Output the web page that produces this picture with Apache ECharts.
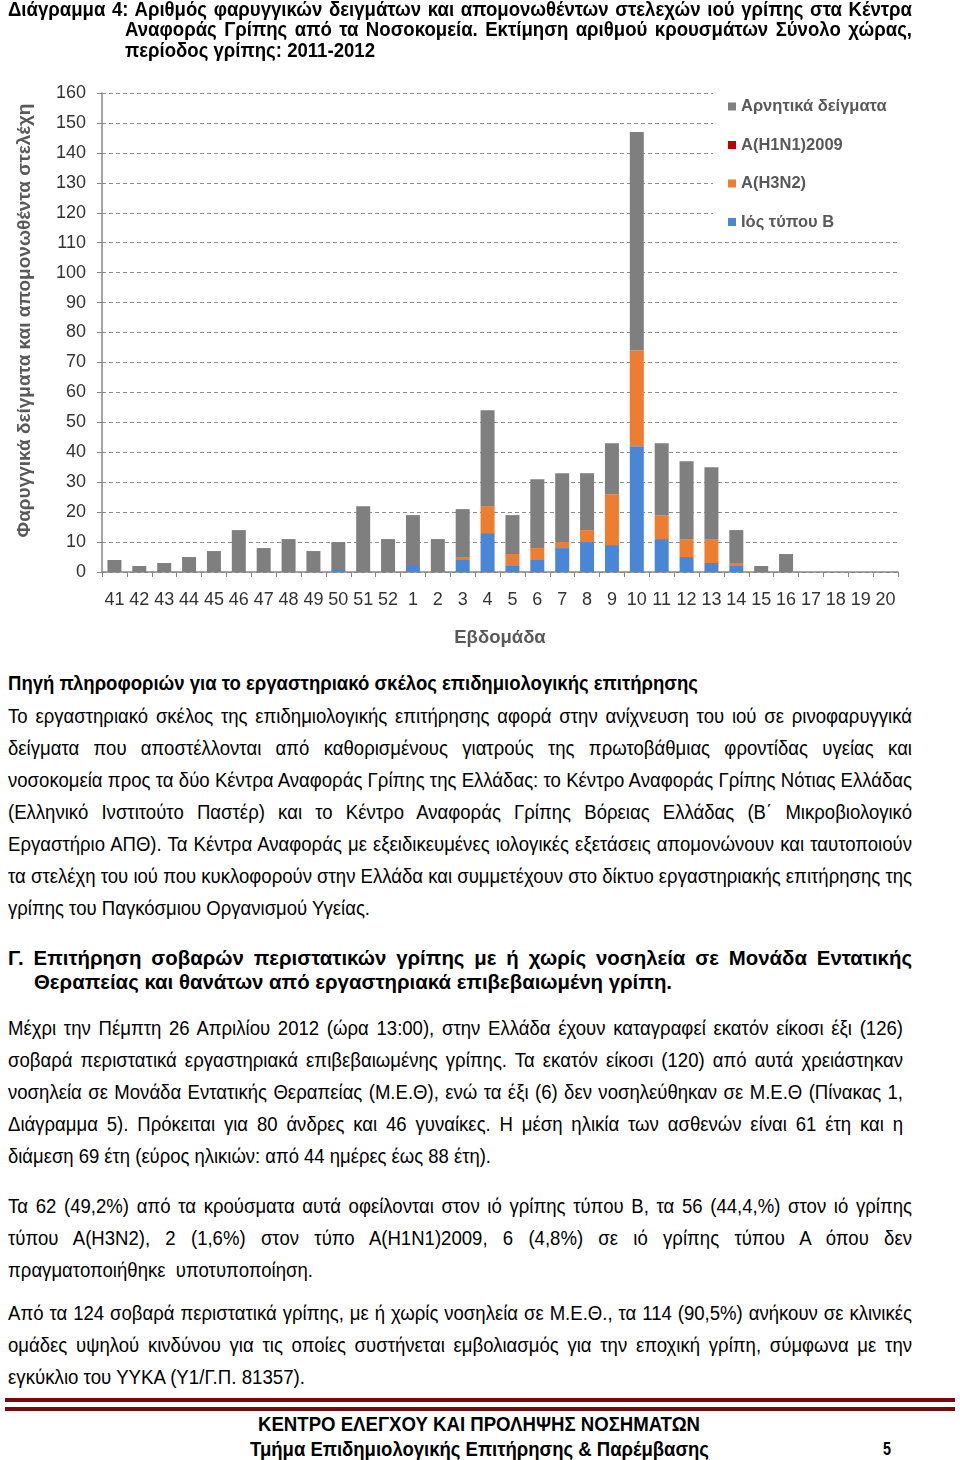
<!DOCTYPE html>
<html>
<head>
<meta charset="utf-8">
<script src="https://cdn.jsdelivr.net/npm/echarts@6/dist/echarts.min.js"></script>
<style>
  html, body { margin:0; padding:0; background:#fff; }
  #page { position:relative; width:960px; height:1460px; overflow:hidden; background:#fff; }
  #chart { position:absolute; left:0; top:0; width:960px; height:660px; }
  .ln { position:absolute; white-space:nowrap; color:#000; line-height:24px; height:24px;
        font-family:"Liberation Sans", Arial, sans-serif; font-size:20px; transform-origin:0 50%; }
  .b { font-weight:bold; }
  .rule { position:absolute; left:5px; width:950px; height:4px; background:#7a0a0a; }
</style>
</head>
<body>
<div id="page">
  <div id="chart"></div>
  <div id="text"></div>
  <div class="rule" style="top:1398px"></div>
  <div class="rule" style="top:1407px"></div>
</div>
<script>
// ---- chart data ----
const weeks = ['41','42','43','44','45','46','47','48','49','50','51','52','1','2','3','4','5','6','7','8','9','10','11','12','13','14','15','16','17','18','19','20'];
const typeB    = [0,0,0,0,0,0,0,0,0,1,0,0, 2,0,4,13,2,4,8,10,9,42,11,5,3,2,0,0,0,0,0,0];
const h1n1     = [0,0,0,0,0,0,0,0,0,0,0,0, 0,0,0,0,0,0,0,0,0,0,0,0,0,0,0,0,0,0,0,0];
const h3n2     = [0,0,0,0,0,0,0,0,0,0,0,0, 0,0,1,9,4,4,2,4,17,32,8,6,8,1,0,0,0,0,0,0];
const negative = [4,2,3,5,7,14,8,11,7,9,22,11, 17,11,16,32,13,23,23,19,17,73,24,26,24,11,2,6,0,0,0,0];
const yTicks = {min:0, max:160, interval:10};
const seriesNames = ['Ιός τύπου B','A(H1N1)2009','A(H3N2)','Αρνητικά δείγματα'];
const legendOrder = ['Αρνητικά δείγματα','A(H1N1)2009','A(H3N2)','Ιός τύπου B'];
const colors = ['#4a86d6','#c00000','#ed7d31','#7f7f7f'];

const chart = echarts.init(document.getElementById('chart'), null, {renderer:'canvas'});
const F = '"Liberation Sans", Arial, sans-serif';
const dataSets = [typeB, h1n1, h3n2, negative];
chart.setOption({
  animation:false,
  textStyle:{fontFamily:F},
  grid:{left:102, top:93, width:796, height:479, containLabel:false, outerBoundsMode:'none'},
  legend:{
    data:legendOrder, orient:'vertical', left:713, top:90,
    padding:[8,14,8,15], backgroundColor:'#fff',
    itemWidth:8, itemHeight:8, itemGap:21.5, icon:'rect',
    textStyle:{fontSize:16.5, fontWeight:'bold', color:'#595959', lineHeight:16, fontFamily:F}
  },
  xAxis:{
    type:'category', data:weeks,
    name:'Εβδομάδα', nameLocation:'middle', nameGap:56,
    nameTextStyle:{fontSize:18.5, fontWeight:'bold', color:'#595959', fontFamily:F},
    axisLine:{lineStyle:{color:'#868686', width:1.5}},
    axisTick:{show:true, alignWithLabel:false, length:5, lineStyle:{color:'#868686'}},
    axisLabel:{interval:0, fontSize:18, color:'#333', margin:19, fontFamily:F}
  },
  yAxis:{
    type:'value', min:yTicks.min, max:yTicks.max, interval:yTicks.interval,
    name:'Φαρυγγικά δείγματα και απομονωθέντα στελέχη', nameLocation:'middle', nameGap:68,
    nameTextStyle:{fontSize:19, fontWeight:'bold', color:'#595959', fontFamily:F, padding:[0,0,0,24]},
    axisLine:{show:true, lineStyle:{color:'#868686', width:1.5}},
    axisTick:{show:true, length:5, lineStyle:{color:'#868686'}},
    axisLabel:{fontSize:18, color:'#333', margin:16, fontFamily:F},
    splitLine:{lineStyle:{type:[4,3], color:'#8c8c8c', width:1}}
  },
  series: seriesNames.map((n,i)=>({
    name:n, type:'bar', stack:'all', barWidth:14, data:dataSets[i],
    itemStyle:{color:colors[i]}
  }))
});

// ---- text ----
// [text, x, yCenter, mode, bold, fontSize, group, widthOrRight]
const lines = [
  ['Διάγραμμα 4: Αριθμός φαρυγγικών δειγμάτων και απομονωθέντων στελεχών ιού γρίπης στα Κέντρα', 8, 9, 'j', 1, 20, 'title', 912],
  ['Αναφοράς Γρίπης από τα Νοσοκομεία. Εκτίμηση αριθμού κρουσμάτων Σύνολο χώρας,', 125, 29, 'j', 1, 20, 'title', 912],
  ['περίοδος γρίπης: 2011-2012', 125, 50, 'l', 1, 20, 'title', 250],
  ['Πηγή πληροφοριών για το εργαστηριακό σκέλος επιδημιολογικής επιτήρησης', 8, 683, 'l', 1, 20, 'h', 690],
  ['Το εργαστηριακό σκέλος της επιδημιολογικής επιτήρησης αφορά στην ανίχνευση του ιού σε ρινοφαρυγγικά', 8, 716, 'j', 0, 20, 'body', 912],
  ['δείγματα που αποστέλλονται από καθορισμένους γιατρούς της πρωτοβάθμιας φροντίδας υγείας και', 8, 748, 'j', 0, 20, 'body', 912],
  ['νοσοκομεία προς τα δύο Κέντρα Αναφοράς Γρίπης της Ελλάδας: το Κέντρο Αναφοράς Γρίπης Νότιας Ελλάδας', 8, 780, 'j', 0, 20, 'body', 912],
  ['(Ελληνικό Ινστιτούτο Παστέρ) και το Κέντρο Αναφοράς Γρίπης Βόρειας Ελλάδας (Β΄ Μικροβιολογικό', 8, 812, 'j', 0, 20, 'body', 912],
  ['Εργαστήριο ΑΠΘ). Τα Κέντρα Αναφοράς με εξειδικευμένες ιολογικές εξετάσεις απομονώνουν και ταυτοποιούν', 8, 844, 'j', 0, 20, 'body', 912],
  ['τα στελέχη του ιού που κυκλοφορούν στην Ελλάδα και συμμετέχουν στο δίκτυο εργαστηριακής επιτήρησης της', 8, 876, 'j', 0, 20, 'body', 912],
  ['γρίπης του Παγκόσμιου Οργανισμού Υγείας.', 8, 908, 'l', 0, 20, 'body', 362],
  ['Γ. Επιτήρηση σοβαρών περιστατικών γρίπης με ή χωρίς νοσηλεία σε Μονάδα Εντατικής', 8, 958, 'j', 1, 21, 'hG', 912],
  ['Θεραπείας και θανάτων από εργαστηριακά επιβεβαιωμένη γρίπη.', 34, 982, 'l', 1, 21, 'hG', 638],
  ['Μέχρι την Πέμπτη 26 Απριλίου 2012 (ώρα 13:00), στην Ελλάδα έχουν καταγραφεί εκατόν είκοσι έξι (126)', 8, 1028, 'j', 0, 20, 'body', 903],
  ['σοβαρά περιστατικά εργαστηριακά επιβεβαιωμένης γρίπης. Τα εκατόν είκοσι (120) από αυτά χρειάστηκαν', 8, 1060, 'j', 0, 20, 'body', 903],
  ['νοσηλεία σε Μονάδα Εντατικής Θεραπείας (Μ.Ε.Θ), ενώ τα έξι (6) δεν νοσηλεύθηκαν σε Μ.Ε.Θ (Πίνακας 1,', 8, 1092, 'j', 0, 20, 'body', 903],
  ['Διάγραμμα 5). Πρόκειται για 80 άνδρες και 46 γυναίκες. Η μέση ηλικία των ασθενών είναι 61 έτη και η', 8, 1124, 'j', 0, 20, 'body', 903],
  ['διάμεση 69 έτη (εύρος ηλικιών: από 44 ημέρες έως 88 έτη).', 8, 1156, 'l', 0, 20, 'body', 483],
  ['Τα 62 (49,2%) από τα κρούσματα αυτά οφείλονται στον ιό γρίπης τύπου Β, τα 56 (44,4,%) στον ιό γρίπης', 8, 1206, 'j', 0, 20, 'body', 912],
  ['τύπου Α(Η3Ν2), 2 (1,6%) στον τύπο Α(Η1Ν1)2009, 6 (4,8%) σε ιό γρίπης τύπου Α όπου δεν', 8, 1238, 'j', 0, 20, 'body', 912],
  ['πραγματοποιήθηκε\u00a0 υποτυποποίηση.', 8, 1270, 'l', 0, 20, 'body', 305],
  ['Από τα 124 σοβαρά περιστατικά γρίπης, με ή χωρίς νοσηλεία σε Μ.Ε.Θ., τα 114 (90,5%) ανήκουν σε κλινικές', 8, 1313, 'j', 0, 20, 'body', 912],
  ['ομάδες υψηλού κινδύνου για τις οποίες συστήνεται εμβολιασμός για την εποχική γρίπη, σύμφωνα με την', 8, 1345, 'j', 0, 20, 'body', 912],
  ['εγκύκλιο του ΥΥΚΑ (Υ1/Γ.Π. 81357).', 8, 1377, 'l', 0, 20, 'body', 297],
  ['ΚΕΝΤΡΟ ΕΛΕΓΧΟΥ ΚΑΙ ΠΡΟΛΗΨΗΣ ΝΟΣΗΜΑΤΩΝ', 479, 1424, 'c', 1, 20, 'f1', 442],
  ['Τμήμα Επιδημιολογικής Επιτήρησης & Παρέμβασης', 479.5, 1449, 'c', 1, 20, 'f2', 459],
  ['5', 883, 1449, 'l', 1, 18, 'pg', 8]
];
const host = document.getElementById('text');
const items = lines.map(([t,x,y,mode,b,fs,g,v])=>{
  const s = document.createElement('span');
  s.className = 'ln' + (b ? ' b' : '');
  s.textContent = t;
  s.style.fontSize = fs + 'px';
  s.style.top = (y - 12) + 'px';
  host.appendChild(s);
  return {s,t,x,mode,g,v,w:s.getBoundingClientRect().width};
});
const gs = {};
items.forEach(it=>{ if (it.mode !== 'j') { (gs[it.g] = gs[it.g] || []).push(it.v / it.w); } });
const gScale = {};
Object.keys(gs).forEach(g=>{ gScale[g] = gs[g].reduce((a,b)=>a+b,0)/gs[g].length; });
items.forEach(it=>{
  let k;
  if (it.mode === 'j') {
    k = gScale[it.g] || 1;
    const n = (it.t.match(/ /g) || []).length;
    const target = (it.v - it.x) / k;
    if (target < it.w) k = (it.v - it.x) / it.w;
    else if (n) it.s.style.wordSpacing = ((target - it.w) / n) + 'px';
    it.s.style.left = it.x + 'px';
  } else {
    k = it.v / it.w;
    it.s.style.left = (it.mode === 'c' ? it.x - it.v/2 : it.x) + 'px';
  }
  it.s.style.transform = 'scaleX(' + k + ')';
});
</script>
</body>
</html>
